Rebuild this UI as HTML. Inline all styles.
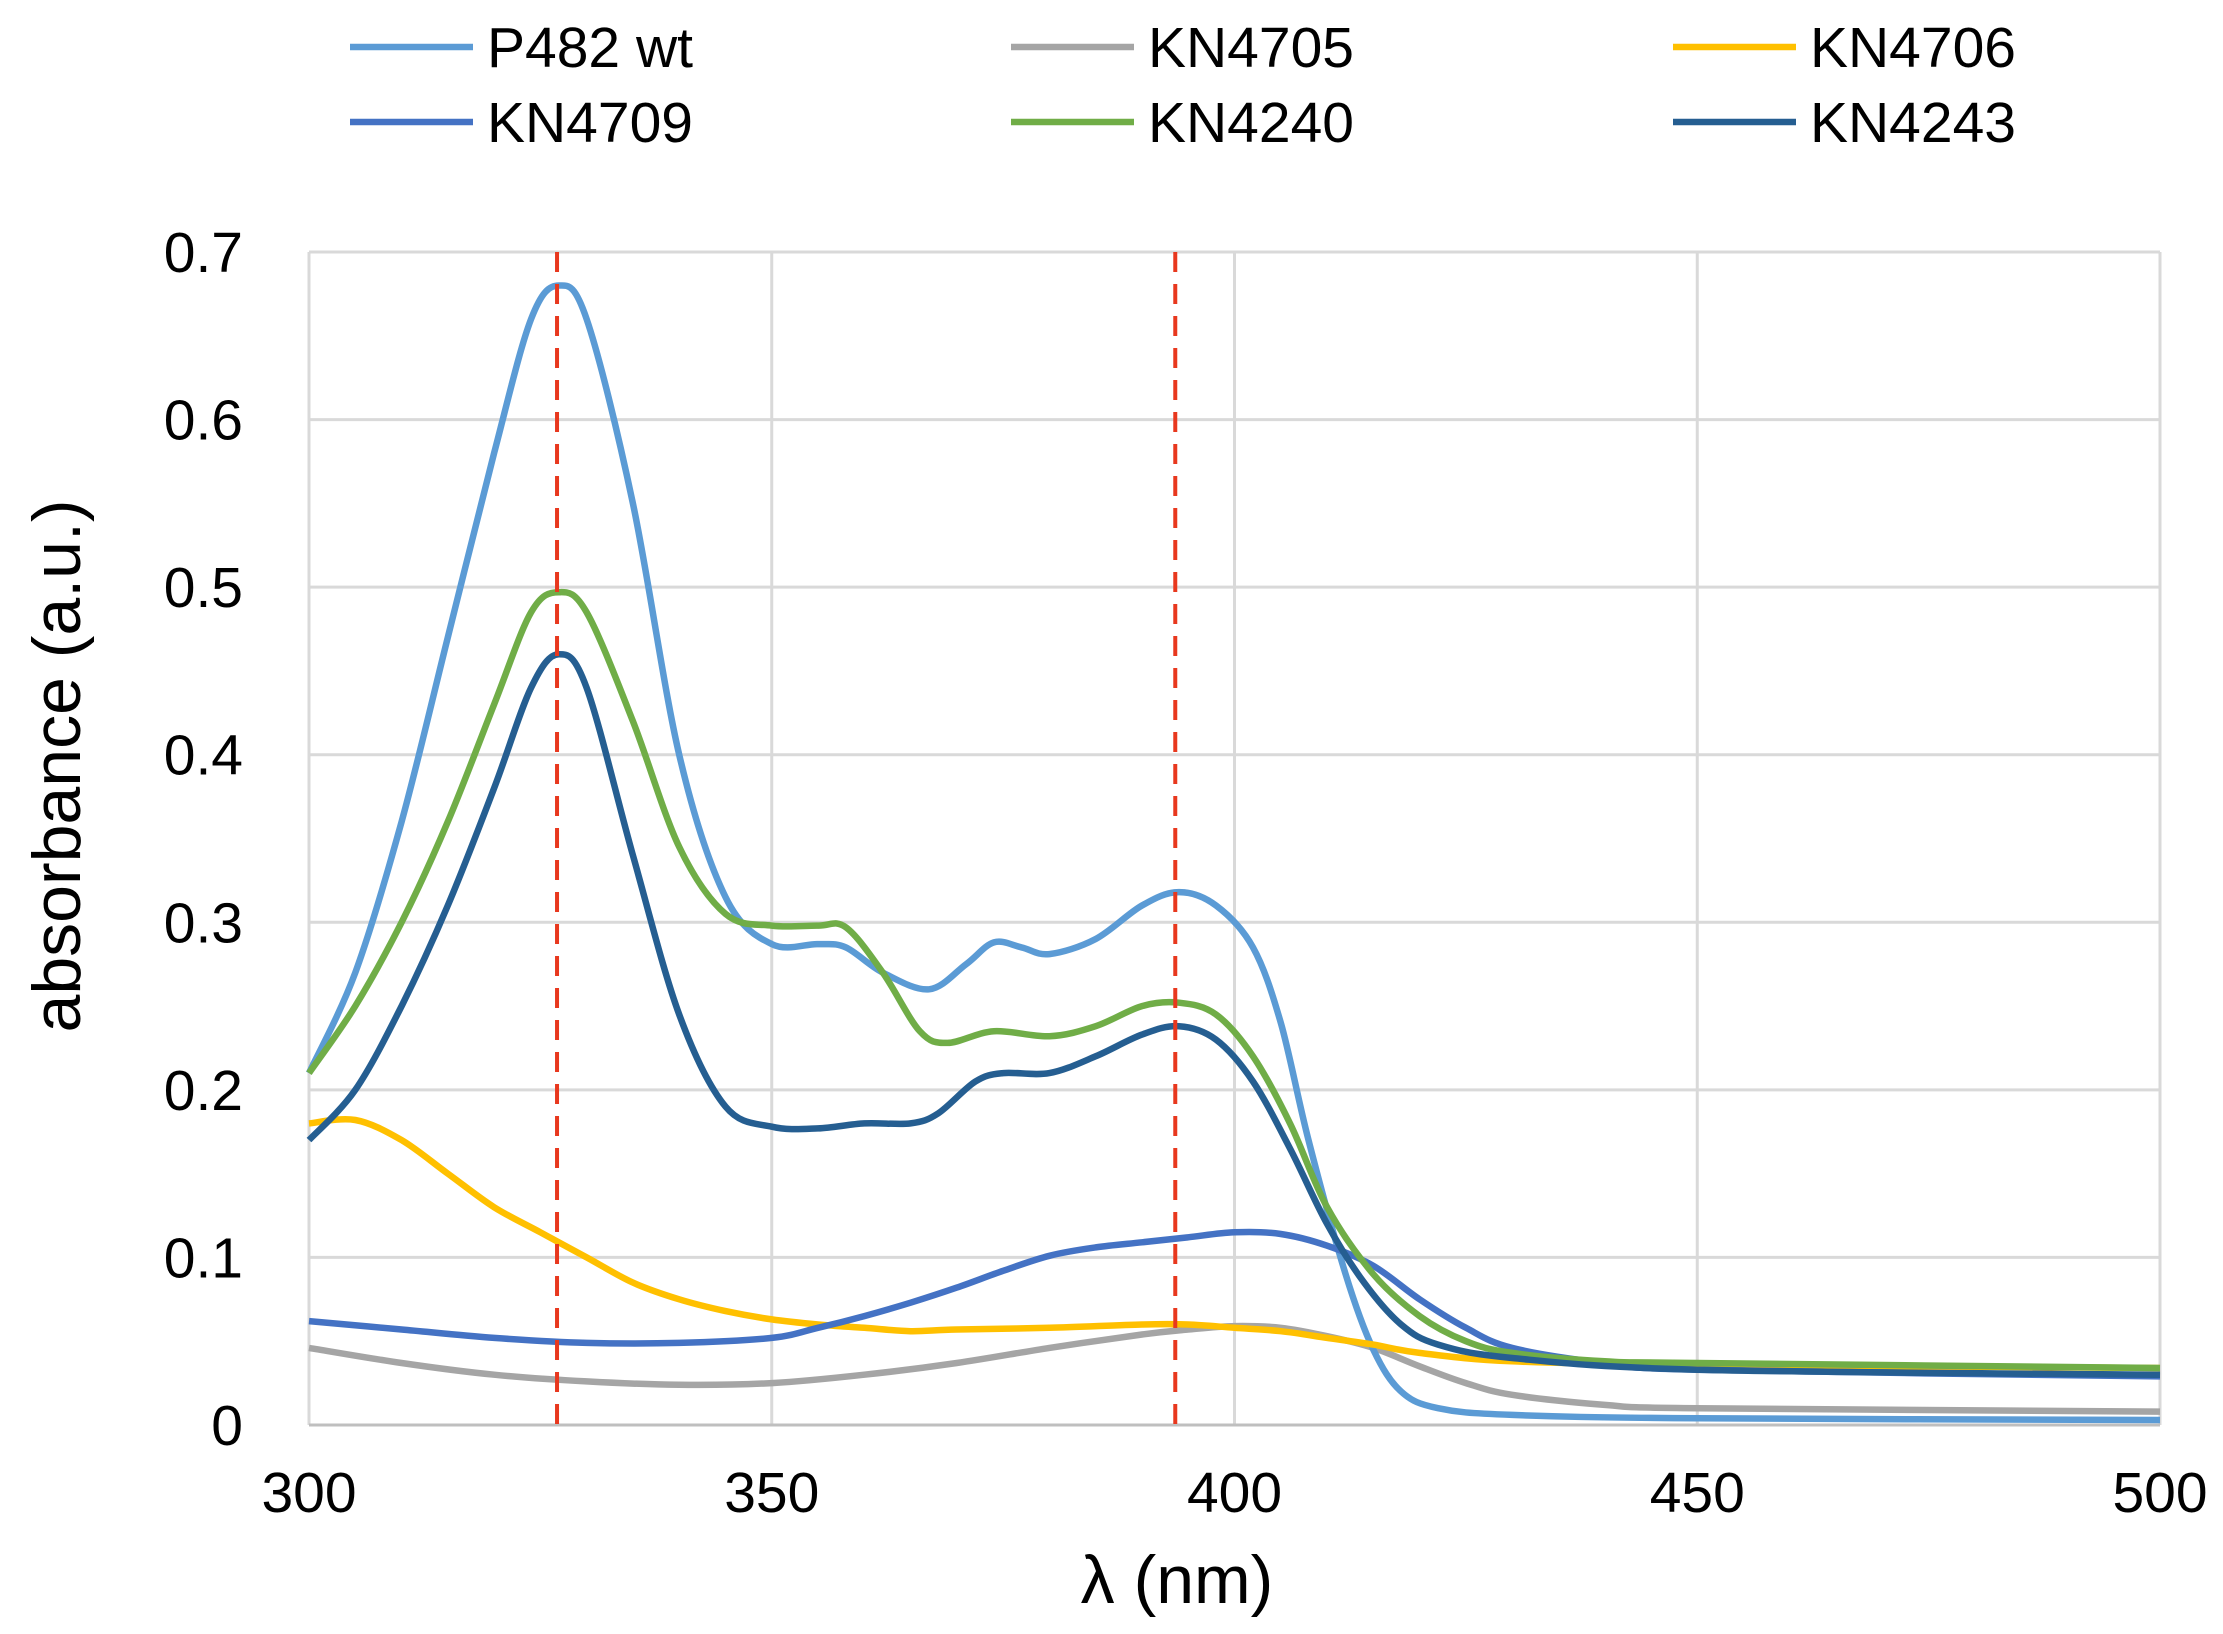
<!DOCTYPE html>
<html><head><meta charset="utf-8"><style>
html,body{margin:0;padding:0;background:#fff;}
svg{display:block;font-family:"Liberation Sans",Arial,sans-serif;}
</style></head><body>
<svg id="chart" width="2223" height="1634" viewBox="0 0 2223 1634" xmlns="http://www.w3.org/2000/svg">
<rect width="2223" height="1634" fill="#fff"/>
<g id="grid"></g>
<g id="ticks"></g>
<g id="series"></g>
<g id="legend"></g>
<text x="1177" y="1603" font-size="68" text-anchor="middle" fill="#000">λ (nm)</text>
<text transform="translate(80,766) rotate(-90)" font-size="68" text-anchor="middle" fill="#000">absorbance (a.u.)</text>
</svg>
<script>
const xTicks=[300,350,400,450,500];
const yTicks=[0,0.1,0.2,0.3,0.4,0.5,0.6,0.7];
const yTickLabels=["0","0.1","0.2","0.3","0.4","0.5","0.6","0.7"];
const markers=[326.8,393.6];
const seriesNames=["P482 wt","KN4705","KN4706","KN4709","KN4240","KN4243"];
const seriesColors=["#5B9BD5","#A5A5A5","#FFC000","#4472C4","#70AD47","#255E91"];
const wlP482=[300,305,310,315,320,324,327,330,335,340,345,350,355,358,362,367,371,374,377,380,385,390,394,398,402,405,408,412,415,418,422,430,450,500];
const absP482=[0.21,0.27,0.36,0.47,0.58,0.66,0.68,0.66,0.55,0.40,0.315,0.287,0.287,0.285,0.27,0.26,0.275,0.288,0.285,0.281,0.29,0.31,0.318,0.31,0.285,0.24,0.17,0.09,0.045,0.02,0.01,0.006,0.004,0.003];
const wl4705=[300,310,320,330,340,350,360,370,380,390,395,400,405,410,415,420,425,430,440,450,500];
const abs4705=[0.046,0.037,0.03,0.026,0.024,0.025,0.03,0.037,0.046,0.054,0.057,0.059,0.058,0.053,0.046,0.035,0.025,0.018,0.012,0.01,0.008];
const wl4706=[300,305,310,315,320,325,330,335,340,345,350,355,360,365,370,380,390,395,400,405,410,415,420,430,450,500];
const abs4706=[0.18,0.182,0.17,0.15,0.13,0.115,0.1,0.085,0.075,0.068,0.063,0.06,0.058,0.056,0.057,0.058,0.06,0.06,0.058,0.056,0.052,0.048,0.043,0.038,0.036,0.034];
const wl4709=[300,310,320,330,340,350,355,360,365,370,375,380,385,390,395,400,405,410,415,420,425,430,440,450,500];
const abs4709=[0.062,0.057,0.052,0.049,0.049,0.052,0.058,0.065,0.073,0.082,0.092,0.101,0.106,0.109,0.112,0.115,0.114,0.107,0.095,0.075,0.058,0.046,0.037,0.033,0.029];
const wl4240=[300,305,310,315,320,324,327,330,335,340,345,350,355,358,362,366,369,374,380,385,390,394,398,402,406,410,415,420,425,430,440,450,500];
const abs4240=[0.21,0.25,0.30,0.36,0.43,0.485,0.497,0.485,0.42,0.345,0.305,0.298,0.298,0.297,0.27,0.235,0.228,0.235,0.232,0.238,0.25,0.252,0.245,0.22,0.18,0.13,0.09,0.065,0.05,0.043,0.038,0.037,0.034];
const wl4243=[300,305,310,315,320,324,327,330,335,340,345,350,355,360,365,368,372,375,380,385,390,394,398,402,406,410,414,418,422,430,450,500];
const abs4243=[0.17,0.20,0.25,0.31,0.38,0.44,0.46,0.44,0.34,0.245,0.19,0.178,0.177,0.18,0.18,0.186,0.205,0.21,0.21,0.22,0.233,0.238,0.23,0.205,0.165,0.12,0.085,0.06,0.048,0.04,0.033,0.03];

const X0=309,X1=2160,Y0=1425,Y1=252;
const xS=v=>X0+(v-300)/(500-300)*(X1-X0);
const yS=v=>Y0-(v/0.7)*(Y0-Y1);
const NS="http://www.w3.org/2000/svg";
function mk(tag,parent,attrs){const e=document.createElementNS(NS,tag);for(const k in attrs)e.setAttribute(k,attrs[k]);parent.appendChild(e);return e;}
const grid=document.getElementById('grid'),ticks=document.getElementById('ticks'),ser=document.getElementById('series'),leg=document.getElementById('legend');
yTicks.forEach((t,i)=>{
  const l=mk('line',grid,{x1:X0,x2:X1,y1:yS(t),y2:yS(t),stroke:'#D9D9D9','stroke-width':3});
  
  
  const tx=mk('text',ticks,{x:243,y:yS(t)+20,'font-size':57,'text-anchor':'end',fill:'#000'});
  tx.textContent=yTickLabels[i];
  
  
});
xTicks.forEach(t=>{
  const l=mk('line',grid,{x1:xS(t),x2:xS(t),y1:Y1,y2:Y0,stroke:'#D9D9D9','stroke-width':3});
  
  
  const tx=mk('text',ticks,{x:xS(t),y:1512,'font-size':57,'text-anchor':'middle',fill:'#000'});
  tx.textContent=String(t);
  
  
});
const ax=mk('line',grid,{x1:X0,x2:X1,y1:Y0,y2:Y0,stroke:'#BFBFBF','stroke-width':3});


function smooth(xs,ys){
  const p=xs.map((x,i)=>[xS(x),yS(ys[i])]);
  let d='M'+p[0][0].toFixed(1)+','+p[0][1].toFixed(1);
  for(let i=0;i<p.length-1;i++){
    const a=p[i-1]||p[i],b=p[i],c=p[i+1],e=p[i+2]||c;
    const c1=[b[0]+(c[0]-a[0])/6,b[1]+(c[1]-a[1])/6],c2=[c[0]-(e[0]-b[0])/6,c[1]-(e[1]-b[1])/6];
    d+=' C'+c1[0].toFixed(1)+','+c1[1].toFixed(1)+' '+c2[0].toFixed(1)+','+c2[1].toFixed(1)+' '+c[0].toFixed(1)+','+c[1].toFixed(1);
  }
  return d;
}
const allX=[wlP482,wl4705,wl4706,wl4709,wl4240,wl4243];
const allY=[absP482,abs4705,abs4706,abs4709,abs4240,abs4243];
const order=[1,0,2,3,4,5];
order.forEach(i=>{
  const p=mk('path',ser,{d:smooth(allX[i],allY[i]),fill:'none',stroke:seriesColors[i],'stroke-width':6.5,'stroke-linejoin':'round'});
  
  
});
markers.forEach(m=>{
  const l=mk('line',ser,{x1:xS(m),x2:xS(m),y1:Y1,y2:Y0,stroke:'#E8381E','stroke-width':4,'stroke-dasharray':'20,12'});
  
  
});
const colX=[350,1011,1673],rowY=[47,122];
seriesNames.forEach((n,i)=>{
  const cx=colX[i%3],cy=rowY[Math.floor(i/3)];
  const g=mk('g',leg,{});
  
  
  mk('line',g,{x1:cx,x2:cx+123,y1:cy,y2:cy,stroke:seriesColors[i],'stroke-width':6.5});
  const t=mk('text',g,{x:cx+137,y:cy+20,'font-size':57,fill:'#000'});
  t.textContent=n;
});
</script>
</body></html>
